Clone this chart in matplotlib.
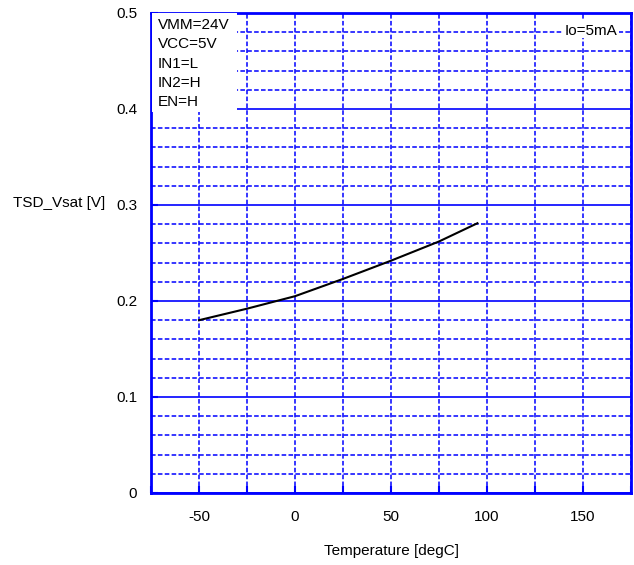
import matplotlib
matplotlib.use("Agg")
import matplotlib.pyplot as plt
from matplotlib.patches import Rectangle
from matplotlib.ticker import MultipleLocator

# curve
temps = [-50, -25, 0, 25, 50, 75, 95]
vsat = [0.180, 0.192, 0.205, 0.223, 0.242, 0.262, 0.281]

y_ticks = [0, 0.1, 0.2, 0.3, 0.4, 0.5]
y_tick_labels = ['0', '0.1', '0.2', '0.3', '0.4', '0.5']
x_ticks = [-50, 0, 50, 100, 150]

cond_labels = ["VMM=24V", "VCC=5V", "IN1=L", "IN2=H", "EN=H"]
io_label = "Io=5mA"

plt.rcParams.update({
    'font.family': ['Liberation Sans', 'DejaVu Sans'],
    'font.size': 11,
    'axes.unicode_minus': False,
})

blue = '#0000FF'

fig = plt.figure(figsize=(6.34, 5.65), dpi=100)
ax = fig.add_axes([151 / 634, 72 / 565, 480 / 634, 480 / 565])

ax.plot(temps, vsat, color='black', lw=1.5, zorder=5)

ax.set_xlim(-75, 175)
ax.set_ylim(0, 0.5)
ax.set_xticks(x_ticks)
ax.set_xticklabels([str(t) for t in x_ticks])
ax.xaxis.set_minor_locator(MultipleLocator(25))
ax.set_yticks(y_ticks)
ax.set_yticklabels(y_tick_labels)
ax.yaxis.set_minor_locator(MultipleLocator(0.02))

dash = (0, (3, 1.5))
ax.grid(which='major', axis='y', color=blue, ls='-', lw=1.2)
ax.grid(which='minor', axis='y', color=blue, ls=dash, lw=1.1)
ax.grid(which='both', axis='x', color=blue, ls=dash, lw=1.1)
ax.set_axisbelow(True)

for s in ax.spines.values():
    s.set_color(blue)
    s.set_linewidth(2)

ax.tick_params(which='both', direction='in', color=blue, width=1.5, length=5,
               labelsize=11, labelcolor='black')
ax.tick_params(axis='x', which='both', pad=12)
ax.tick_params(axis='y', which='both', pad=10)
ax.tick_params(axis='y', which='minor', length=0)

ax.set_xlabel('Temperature [degC]', fontsize=11, labelpad=15)
fig.text(13 / 634, 1 - 203 / 565, 'TSD_Vsat [V]', fontsize=11, va='center', ha='left')

# white boxes behind the condition notes
ax.add_patch(Rectangle((0.003, 0.794), 0.176, 0.206, transform=ax.transAxes,
                       facecolor='white', edgecolor='none', zorder=3))
ax.add_patch(Rectangle((0.858, 0.948), 0.118, 0.038, transform=ax.transAxes,
                       facecolor='white', edgecolor='none', zorder=3))

for i, lab in enumerate(cond_labels):
    ax.text(0.014, 0.975 - i * 0.0402, lab, transform=ax.transAxes,
            va='center', ha='left', fontsize=11, zorder=6)
ax.text(0.8625, 0.963, io_label, transform=ax.transAxes,
        va='center', ha='left', fontsize=11, zorder=6)

fig.savefig('out.png', dpi=100, facecolor='white')
